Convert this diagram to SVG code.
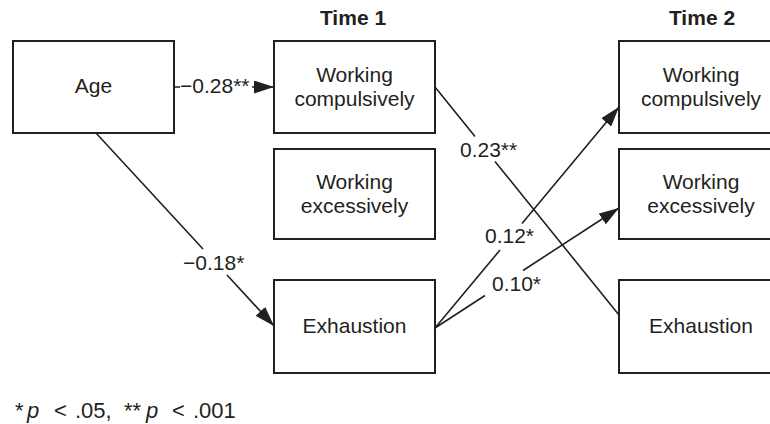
<svg xmlns="http://www.w3.org/2000/svg" width="770" height="424" viewBox="0 0 770 424">
<style>
.box{fill:#fff;stroke:#231f20;stroke-width:2}
.t{font-family:"Liberation Sans",Arial,sans-serif;font-size:21px;fill:#231f20;text-anchor:middle}
.h{font-family:"Liberation Sans",Arial,sans-serif;font-size:21px;font-weight:bold;fill:#231f20;text-anchor:middle}
.lbl{font-family:"Liberation Sans",Arial,sans-serif;font-size:21px;fill:#231f20}
.c{fill:none;stroke:#231f20;stroke-width:1.6}
</style>
<defs>
<marker id="arr" markerUnits="userSpaceOnUse" markerWidth="20" markerHeight="13" refX="20" refY="6.5" orient="auto">
<path d="M0,0 L20,6.5 L0,13 z" fill="#231f20"/>
</marker>
</defs>
<text class="h" x="353" y="25">Time 1</text>
<text class="h" x="702" y="25">Time 2</text>
<g id="age"><rect class="box" x="13" y="41" width="161" height="92"/><text class="t" x="93.5" y="93">Age</text></g>
<g id="wc1"><rect class="box" x="274" y="41" width="161" height="92"/><text class="t" x="354.5" y="82">Working</text><text class="t" x="354.5" y="106">compulsively</text></g>
<g id="we1"><rect class="box" x="274" y="149" width="161" height="90"/><text class="t" x="354.5" y="189">Working</text><text class="t" x="354.5" y="213">excessively</text></g>
<g id="ex1"><rect class="box" x="274" y="280" width="161" height="93"/><text class="t" x="354.5" y="333">Exhaustion</text></g>
<g id="wc2"><rect class="box" x="619" y="41" width="161" height="92"/><text class="t" x="701" y="82">Working</text><text class="t" x="701" y="106">compulsively</text></g>
<g id="we2"><rect class="box" x="619" y="149" width="161" height="90"/><text class="t" x="701" y="189">Working</text><text class="t" x="701" y="213">excessively</text></g>
<g id="ex2"><rect class="box" x="619" y="280" width="161" height="93"/><text class="t" x="701" y="333">Exhaustion</text></g>
<g id="connectors">
<path class="c" d="M174,87 L180,87 M252,87 L274,87" marker-end="url(#arr)"/>
<path class="c" d="M96,133 L203,249 M227,275 L274,326" marker-end="url(#arr)"/>
<path class="c" d="M435,87 L475,136.5 M495,161.5 L619,315"/>
<path class="c" d="M435,328 L500,250 M522,223.5 L619,107" marker-end="url(#arr)"/>
<path class="c" d="M435,328 L485,295.5 M523,270.5 L619,208" marker-end="url(#arr)"/>
<text class="lbl" x="180" y="93">−0.28**</text>
<text class="lbl" x="183" y="270">−0.18*</text>
<text class="lbl" x="460" y="157">0.23**</text>
<text class="lbl" x="485" y="243">0.12*</text>
<text class="lbl" x="492" y="291">0.10*</text>
</g>
<text class="lbl" style="font-size:22px" y="418"><tspan x="15">*</tspan><tspan x="27" font-style="italic">p</tspan><tspan x="54">&lt;</tspan><tspan x="75">.05,</tspan><tspan x="124">**</tspan><tspan x="146" font-style="italic">p</tspan><tspan x="172">&lt;</tspan><tspan x="193">.001</tspan></text>
</svg>
